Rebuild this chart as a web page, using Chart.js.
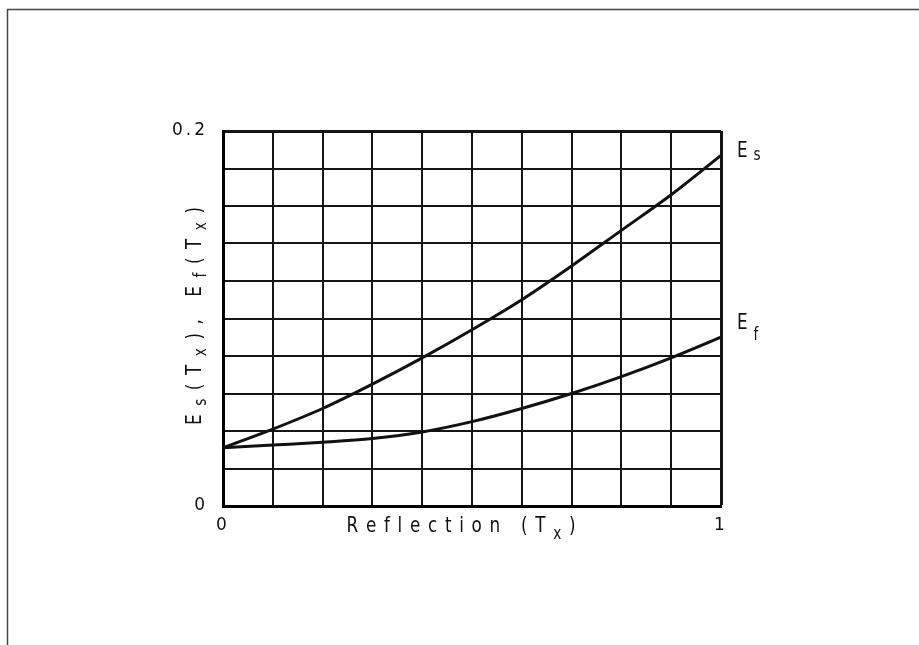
<!DOCTYPE html>
<html>
<head>
<meta charset="utf-8">
<title>Es / Ef vs Reflection</title>
<script src="https://cdn.jsdelivr.net/npm/chart.js@4.4.1/dist/chart.umd.min.js"></script>
<style>
  html, body { margin: 0; padding: 0; background: #fff; }
  #wrap { width: 919px; height: 645px; }
</style>
</head>
<body>
<div id="wrap"><canvas id="reflChart" width="919" height="645"></canvas></div>
<script>
// values (x every 0.1)
const xValues = [0, 0.1, 0.2, 0.3, 0.4, 0.5, 0.6, 0.7, 0.8, 0.9, 1];
const esValues = [0.031, 0.041, 0.052, 0.065, 0.079, 0.094, 0.110, 0.128, 0.147, 0.166, 0.187];
const efValues = [0.031, 0.0325, 0.034, 0.036, 0.0395, 0.045, 0.052, 0.060, 0.069, 0.079, 0.090];
const xTickLabels = ['0', '1'];
const yTickLabels = ['0', '0.2'];

// text pieces, second item marks a subscript
const xTitle = [['Reflection (T', ''], ['x', 'sub'], [')', '']];
const yTitle = [['E', ''], ['s', 'sub'], ['(T', ''], ['x', 'sub'], ['), E', ''], ['f', 'sub'], ['(T', ''], ['x', 'sub'], [')', '']];
const esLabel = [['E', ''], ['s', 'sub']];
const efLabel = [['E', ''], ['f', 'sub']];

const FONT = '"DejaVu Sans", "Liberation Sans", sans-serif';
const INK = '#111';
const SQUEEZE = 0.8; // plotter lettering is narrow

function toPoints(ys) {
    return xValues.map((x, i) => ({ x: x, y: ys[i] }));
}

// split parts into single glyphs so we can space them like the plotter font
function glyphs(parts) {
    const out = [];
    parts.forEach(p => {
        for (const ch of p[0]) out.push({ ch: ch, sub: p[1] === 'sub' });
    });
    return out;
}

function drawSpaced(ctx, parts, x, y, size, opts) {
    const list = glyphs(parts);
    const subSize = Math.round(size * 0.8);
    let total = 0;
    list.forEach(g => {
        ctx.font = (g.sub ? subSize : size) + 'px ' + FONT;
        g.w = ctx.measureText(g.ch).width * SQUEEZE;
        total += g.w;
    });
    let gap = opts.gap;
    if (opts.width) gap = (opts.width - total) / (list.length - 1);
    const full = total + gap * (list.length - 1);
    let cx = opts.align === 'left' ? x : x - full / 2;
    ctx.textAlign = 'left';
    ctx.textBaseline = 'alphabetic';
    list.forEach(g => {
        ctx.font = (g.sub ? subSize : size) + 'px ' + FONT;
        ctx.save();
        ctx.translate(cx, g.sub ? y + opts.subDrop : y);
        ctx.scale(SQUEEZE, 1);
        ctx.fillText(g.ch, 0, 0);
        ctx.restore();
        cx += g.w + gap;
    });
}

const framePlugin = {
    id: 'frame',
    beforeDraw(chart) {
        const c = chart.ctx;
        c.save();
        c.strokeStyle = '#444';
        c.lineWidth = 1.5;
        c.beginPath();
        c.moveTo(7.5, 645);
        c.lineTo(7.5, 9.5);
        c.lineTo(919, 9.5);
        c.stroke();
        c.restore();
        // spaced tick labels like the original
        c.letterSpacing = '3px';
    }
};

const textPlugin = {
    id: 'texts',
    afterDraw(chart) {
        const c = chart.ctx;
        c.save();
        c.letterSpacing = '0px';
        c.fillStyle = INK;

        drawSpaced(c, xTitle, 461, 532, 21, { width: 229, subDrop: 7 });

        c.save();
        c.translate(201, 316);
        c.rotate(-Math.PI / 2);
        drawSpaced(c, yTitle, 0, 0, 21, { width: 218, subDrop: 5 });
        c.restore();

        drawSpaced(c, esLabel, 737, 157, 21, { gap: 6, align: 'left', subDrop: 3 });
        drawSpaced(c, efLabel, 737, 329, 21, { gap: 6, align: 'left', subDrop: 11 });
        c.restore();
    }
};

const ctx = document.getElementById('reflChart').getContext('2d');

const chart = new Chart(ctx, {
    type: 'line',
    data: {
        datasets: [
            {
                label: 'Es',
                data: toPoints(esValues),
                borderColor: INK,
                borderWidth: 3,
                pointRadius: 0,
                cubicInterpolationMode: 'monotone',
                fill: false
            },
            {
                label: 'Ef',
                data: toPoints(efValues),
                borderColor: INK,
                borderWidth: 3,
                pointRadius: 0,
                cubicInterpolationMode: 'monotone',
                fill: false
            }
        ]
    },
    options: {
        responsive: false,
        animation: false,
        events: [],
        layout: { padding: { top: 131, right: 198, bottom: 0, left: 0 } },
        plugins: { legend: { display: false }, tooltip: { enabled: false } },
        scales: {
            x: {
                type: 'linear',
                min: 0,
                max: 1,
                afterFit: s => { s.height = 139; },
                ticks: {
                    stepSize: 0.1,
                    autoSkip: false,
                    maxRotation: 0,
                    padding: 9,
                    color: INK,
                    font: { family: FONT, size: 17 },
                    callback: (v, i, t) => i === 0 ? xTickLabels[0] : (i === t.length - 1 ? xTickLabels[1] : '')
                },
                grid: {
                    color: '#151515',
                    lineWidth: c => (c.index === 10 ? 3 : 2),
                    drawTicks: false
                },
                border: { color: '#000', width: 3 }
            },
            y: {
                type: 'linear',
                min: 0,
                max: 0.2,
                afterFit: s => { s.width = 223; },
                ticks: {
                    stepSize: 0.02,
                    autoSkip: false,
                    padding: 15,
                    color: INK,
                    font: { family: FONT, size: 17 },
                    callback: (v, i, t) => i === 0 ? yTickLabels[0] : (i === t.length - 1 ? yTickLabels[1] : '')
                },
                grid: {
                    color: '#151515',
                    lineWidth: c => (c.index === 10 ? 3 : 2),
                    drawTicks: false
                },
                border: { color: '#000', width: 3 }
            }
        }
    },
    plugins: [framePlugin, textPlugin]
});
</script>
</body>
</html>
